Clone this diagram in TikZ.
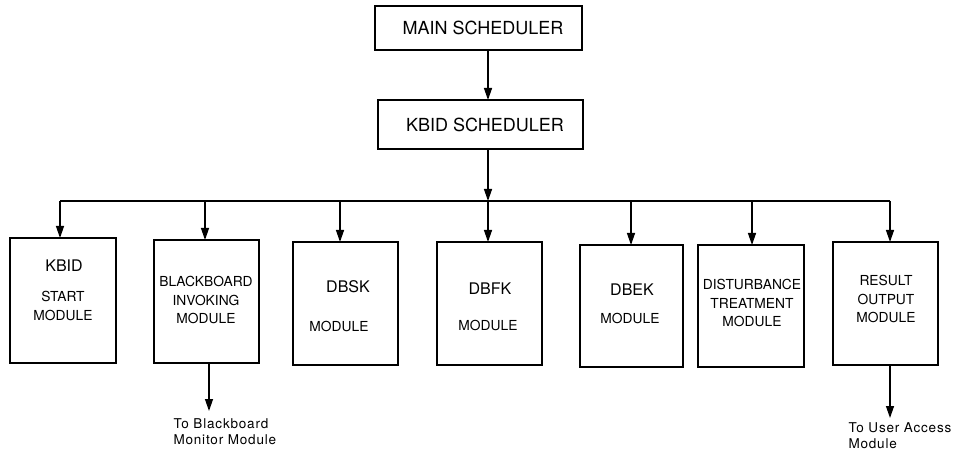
\documentclass[tikz,border=0pt]{standalone}
\usepackage{fontspec}
\setmainfont{TeX Gyre Heros}
\usetikzlibrary{arrows.meta}
\begin{document}
\begin{tikzpicture}[x=1pt,y=-1pt,
  box/.style={draw,line width=1.3pt,inner sep=0pt},
  conn/.style={line width=1.3pt,-{Triangle[length=12pt,width=8pt]}},
  line/.style={line width=1.3pt},
  top/.style={font=\fontsize{18}{20}\selectfont},
  big/.style={font=\fontsize{16}{18}\selectfont},
  mid/.style={font=\fontsize{13.8}{18.5}\selectfont,align=center},
  note/.style={font=\fontsize{13.5}{16.5}\selectfont\addfontfeature{LetterSpace=6},align=left,anchor=north west}]
\useasboundingbox (0,0) rectangle (956,457);
% top boxes
\draw[box] (375,6) rectangle (582,50);
\node[top] (main) at (483,28) {MAIN SCHEDULER};
\coordinate (mainb) at (488,50);
\draw[box] (378,100) rectangle (583,149);
\node[top] (kbid) at (485,125) {KBID SCHEDULER};
\coordinate (kbidt) at (488,100);
\coordinate (kbidb) at (488,149);
\draw[conn] (mainb) -- (kbidt);
% bus
\coordinate (busc) at (488,201);
\coordinate (busl) at (60,201);
\coordinate (busr) at (890,201);
\draw[conn] (kbidb) -- (busc);
\draw[line] (busl) -- (busr);
% bottom boxes
\draw[box] (10,238) rectangle (116,363);
\draw[box] (154,240) rectangle (259,363);
\draw[box] (293,242) rectangle (398,365);
\draw[box] (437,242) rectangle (542,365);
\draw[box] (580,245) rectangle (683,367);
\draw[box] (698,245) rectangle (804,367);
\draw[box] (833,242) rectangle (938,365);
\coordinate (t1) at (60,238);
\coordinate (t2) at (205,240);
\coordinate (t3) at (340,242);
\coordinate (t4) at (488,242);
\coordinate (t5) at (631,245);
\coordinate (t6) at (752,245);
\coordinate (t7) at (890,242);
\coordinate (b1) at (60,201);
\coordinate (b2) at (205,201);
\coordinate (b3) at (340,201);
\coordinate (b4) at (488,201);
\coordinate (b5) at (631,201);
\coordinate (b6) at (752,201);
\coordinate (b7) at (890,201);
\foreach \i in {1,...,7} \draw[conn] (b\i) -- (t\i);
% texts
\node[big] (k1) at (64,266) {KBID};
\node[mid] (k2) at (63,306) {START\\MODULE};
\node[mid] (bb) at (206,300) {BLACKBOARD\\INVOKING\\MODULE};
\node[big] (d1) at (348,287) {DBSK};
\node[mid] (d1m) at (339,326) {MODULE};
\node[big] (d2) at (490,289) {DBFK};
\node[mid] (d2m) at (488,325) {MODULE};
\node[big] (d3) at (632,290) {DBEK};
\node[mid] (d3m) at (630,318) {MODULE};
\node[mid] (dt) at (752,303) {DISTURBANCE\\TREATMENT\\MODULE};
\node[mid] (ro) at (886,299) {RESULT\\OUTPUT\\MODULE};
% outgoing
\coordinate (o2) at (209,363);
\coordinate (e2) at (209,411);
\draw[conn] (o2) -- (e2);
\node[note] (n2) at (170,415) {To Blackboard\\Monitor Module};
\coordinate (o7) at (890,365);
\coordinate (e7) at (890,418);
\draw[conn] (o7) -- (e7);
\node[note] (n7) at (845,419) {To User Access\\Module};
\end{tikzpicture}
\end{document}
